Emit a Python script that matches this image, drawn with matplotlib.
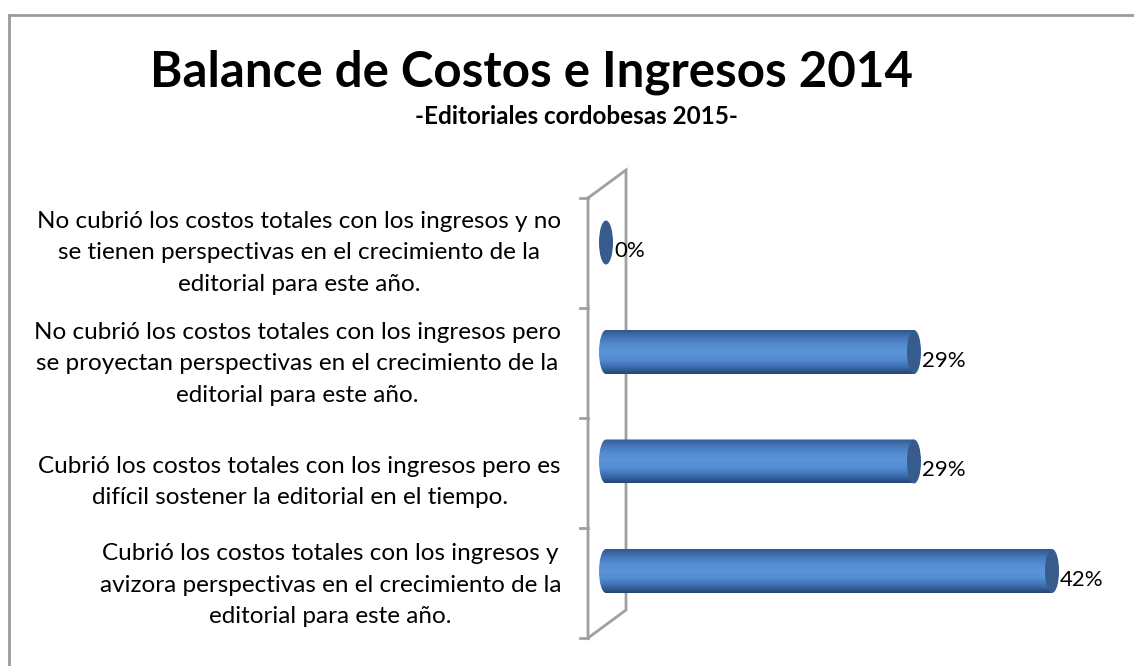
import numpy as np
import matplotlib
matplotlib.use('Agg')
import matplotlib.pyplot as plt
from matplotlib.patches import Ellipse, PathPatch
from matplotlib.path import Path
from matplotlib.lines import Line2D

plt.rcParams['font.family'] = ['Lato', 'DejaVu Sans']

# datos
categorias = [
    'Cubrió los costos totales con los ingresos y\navizora perspectivas en el crecimiento de la\neditorial para este año.',
    'Cubrió los costos totales con los ingresos pero es\ndifícil sostener la editorial en el tiempo.',
    'No cubrió los costos totales con los ingresos pero\nse proyectan perspectivas en el crecimiento de la\neditorial para este año.',
    'No cubrió los costos totales con los ingresos y no\nse tienen perspectivas en el crecimiento de la\neditorial para este año.',
]
valores = [42, 29, 29, 0]
etiquetas = ['42%', '29%', '29%', '0%']

W, H = 1134, 666
fig = plt.figure(figsize=(W / 100, H / 100), dpi=100)

# marco del gráfico
fig.add_artist(Line2D([9 / W, 1], [1 - 15 / H, 1 - 15 / H], color='#9a9a9a', lw=2))
fig.add_artist(Line2D([9 / W, 9 / W], [0, 1 - 15 / H], color='#9a9a9a', lw=2))

fig.text(531 / W, 1 - 72 / H, 'Balance de Costos e Ingresos 2014', ha='center', va='center',
         fontsize=35.5, fontweight='bold')
fig.text(576 / W, 1 - 117 / H, '-Editoriales cordobesas 2015-', ha='center', va='center',
         fontsize=17.5, fontweight='bold')

# ejes: x en %, y en índice de categoría
ax_l, ax_r, ax_t, ax_b = 560, 1134, 160, 650
ax = fig.add_axes([ax_l / W, 1 - ax_b / H, (ax_r - ax_l) / W, (ax_b - ax_t) / H])
ax.axis('off')

px_x = 10.62    # px por unidad x
x0_px = 606     # posición del 0
px_y = 109.5    # px por categoría
y0_px = 571     # centro de la categoría 0

xlim = ((ax_l - x0_px) / px_x, (ax_r - x0_px) / px_x)
ylim = ((y0_px - ax_b) / px_y, (y0_px - ax_t) / px_y)


def px2d(xp, yp):
    return (xp - x0_px) / px_x, (y0_px - yp) / px_y


# pared lateral 3D
wall = [(588, 198), (626, 170), (626, 610), (588, 638), (588, 198)]
wx, wy = zip(*[px2d(*p) for p in wall])
ax.plot(wx, wy, color='#a0a0a0', lw=2, solid_joinstyle='miter')
for i in range(5):
    ty = 198 + i * 110
    a = px2d(580, ty)
    b = px2d(588, ty)
    ax.plot([a[0], b[0]], [a[1], b[1]], color='#a0a0a0', lw=2)

# cilindros
h = 44 / px_y
rx = 7 / px_x
grad = np.array([[0.20, 0.34, 0.55], [0.27, 0.46, 0.72], [0.33, 0.55, 0.82],
                 [0.36, 0.58, 0.85], [0.33, 0.55, 0.82], [0.24, 0.43, 0.70],
                 [0.15, 0.27, 0.44]])
t_src = np.linspace(0, 1, len(grad))
t = np.linspace(0, 1, 100)
img = np.stack([np.interp(t, t_src, grad[:, k]) for k in range(3)], axis=-1)[:, None, :]

for i, v in enumerate(valores):
    yc = i
    if v > 0:
        k = 0.5523
        x0, x1 = 0, v
        yb, yt = yc - h / 2, yc + h / 2
        verts = [(x1, yb), (x1, yt), (x0, yt),
                 (x0 - k * rx, yt), (x0 - rx, yc + k * h / 2), (x0 - rx, yc),
                 (x0 - rx, yc - k * h / 2), (x0 - k * rx, yb), (x0, yb),
                 (x1, yb)]
        codes = [Path.MOVETO, Path.LINETO, Path.LINETO,
                 Path.CURVE4, Path.CURVE4, Path.CURVE4,
                 Path.CURVE4, Path.CURVE4, Path.CURVE4,
                 Path.CLOSEPOLY]
        clip = PathPatch(Path(verts, codes), facecolor='none', edgecolor='none')
        ax.add_patch(clip)
        im = ax.imshow(img, extent=[x0 - rx, x1, yb, yt], aspect='auto', origin='upper',
                       interpolation='bilinear', zorder=2)
        im.set_clip_path(clip)
    ax.add_patch(Ellipse((v, yc), 2 * rx, h, facecolor='#365b8c', edgecolor='none', zorder=3))
    ax.text(v + rx + 1 / px_x, yc - 0.08, etiquetas[i], ha='left', va='center',
            fontsize=16, zorder=4)

# etiquetas de categoría
lab_y = [585, 482, 364, 253]
for i, c in enumerate(categorias):
    lx, ly = px2d(561, lab_y[i])
    ax.text(lx, ly, c, ha='right', va='center', multialignment='center',
            fontsize=17.5, linespacing=1.6)

ax.set_xlim(*xlim)
ax.set_ylim(*ylim)

fig.savefig('out.png', dpi=100)
